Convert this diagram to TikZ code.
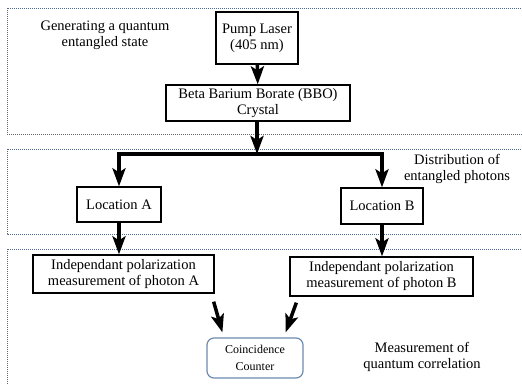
\documentclass[tikz,border=0pt]{standalone}
\usepackage{fontspec}
\setmainfont{Liberation Serif}
\usetikzlibrary{arrows.meta}

\definecolor{framecol}{HTML}{56667E}
\definecolor{countcol}{HTML}{6D8BB0}

\tikzset{
  stage/.style={draw=framecol, dash pattern=on 1pt off 1pt, line width=0.8pt},
  block/.style={draw, line width=1.3pt, align=center, inner sep=1pt,
    font=\fontsize{14.5}{16}\selectfont},
  note/.style={align=center, font=\fontsize{14.5}{16}\selectfont},
  arr/.style={line width=3.5pt, -{Stealth[length=18pt,width=13pt,inset=4pt]}}
}

\begin{document}
\begin{tikzpicture}[x=1pt,y=-1pt]
\useasboundingbox (0,0) rectangle (522,383);
\clip (0,0) rectangle (522,383);

% Etapas
\draw[stage] (7,8) rectangle (540,134);
\draw[stage] (7,149) rectangle (540,234);
\draw[stage] (7,249) rectangle (540,400);

\node[note] (gen) at (105,35) {Generating a quantum\\entangled state};
\node[note] (dist) at (457,169) {Distribution of\\entangled photons};
\node[note] (meas) at (422,357) {Measurement of\\quantum correlation};

% Bloques
\node[block, minimum width=82pt, minimum height=52pt] (pump) at (257,38) {Pump Laser\\(405 nm)};
\node[block, minimum width=184pt, minimum height=36pt] (bbo) at (258,103) {Beta Barium Borate (BBO)\\Crystal};
\node[block, minimum width=84pt, minimum height=35pt] (loca) at (119,204.5) {Location A};
\node[block, minimum width=82pt, minimum height=36pt] (locb) at (382,206) {Location B};
\node[block, minimum width=181pt, minimum height=38pt] (measa) at (123.5,274) {Independant polarization\\measurement of photon A};
\node[block, minimum width=183pt, minimum height=39pt] (measb) at (381.5,276.5) {Independant polarization\\measurement of photon B};
\node[draw=countcol, line width=1.2pt, rounded corners=7pt, align=center,
  minimum width=96pt, minimum height=40pt, font=\fontsize{12}{17}\selectfont]
  (coinc) at (255,358) {Coincidence\\Counter};

% Flechas
\coordinate (split) at (257,154);
\draw[arr] (pump) -- (bbo);
\draw[arr] (bbo.south -| split) -- (split);
\draw[arr] (split) -| (loca);
\draw[arr] (split) -| (locb);
\draw[arr] (loca) -- (loca |- measa.north);
\draw[arr] (locb) -- (locb |- measb.north);
\draw[arr] ([shift={(-1,8)}]measa.south east) -- ([shift={(16,-5)}]coinc.north west);
\draw[arr] ([shift={(7,6)}]measb.south west) -- ([shift={(-18,-5)}]coinc.north east);
\end{tikzpicture}
\end{document}
